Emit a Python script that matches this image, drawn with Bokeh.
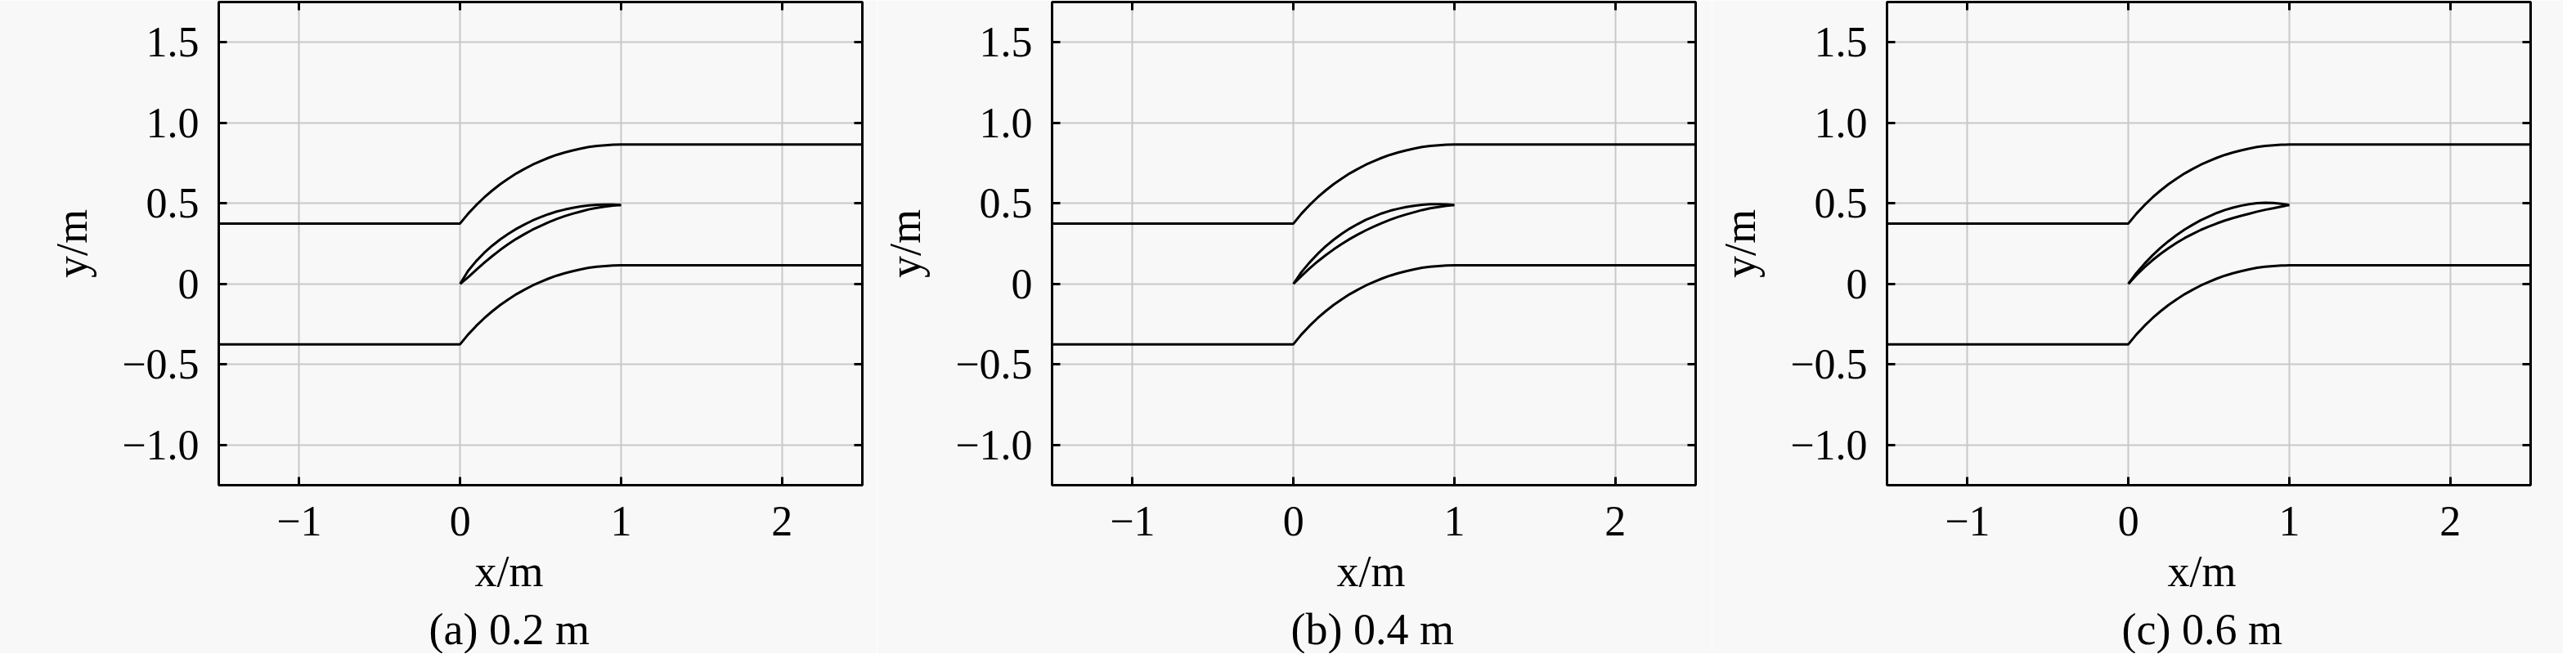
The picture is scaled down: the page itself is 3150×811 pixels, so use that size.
from bokeh.plotting import figure
from bokeh.models import Range1d, FixedTicker, LinearAxis, Title
from bokeh.layouts import row
from bokeh.embed import file_html
from bokeh.resources import INLINE

# ---------------- data ----------------
x_tick_values = [-1, 0, 1, 2]
x_tick_labels = ["\u22121", "0", "1", "2"]
y_tick_values = [-1.0, -0.5, 0.0, 0.5, 1.0, 1.5]
y_tick_labels = ["\u22121.0", "\u22120.5", "0", "0.5", "1.0", "1.5"]
captions = ["(a) 0.2 m", "(b) 0.4 m", "(c) 0.6 m"]
x_label = "x/m"
y_label = "y/m"

# channel walls
wall_x = [-1.5, 0.0, 0.05, 0.10, 0.15, 0.20, 0.25, 0.30, 0.35, 0.40, 0.45, 0.50,
          0.55, 0.60, 0.65, 0.70, 0.75, 0.80, 0.85, 0.90, 0.95, 1.0, 2.5]
upper_wall_y = [0.375, 0.375, 0.436, 0.489, 0.537, 0.580, 0.619, 0.654, 0.686, 0.714,
                0.740, 0.762, 0.783, 0.801, 0.816, 0.829, 0.840, 0.850, 0.857, 0.861,
                0.864, 0.865, 0.865]
lower_wall_y = [-0.375, -0.375, -0.314, -0.261, -0.213, -0.170, -0.131, -0.096, -0.064,
                -0.036, -0.010, 0.012, 0.033, 0.051, 0.066, 0.079, 0.090, 0.100, 0.107,
                0.111, 0.114, 0.115, 0.115]

# blade: camber line and thickness distributions for each case
blade_x = [0.0, 0.05, 0.10, 0.15, 0.20, 0.25, 0.30, 0.35, 0.40, 0.45, 0.50,
           0.55, 0.60, 0.65, 0.70, 0.75, 0.80, 0.85, 0.90, 0.95, 1.0]
camber_y = [0.000, 0.061, 0.114, 0.162, 0.205, 0.244, 0.279, 0.311, 0.339, 0.365, 0.387,
            0.408, 0.426, 0.441, 0.454, 0.465, 0.475, 0.482, 0.486, 0.489, 0.490]
thickness_a = [0.000, 0.040, 0.055, 0.062, 0.065, 0.065, 0.064, 0.062, 0.060, 0.057, 0.054,
               0.050, 0.046, 0.041, 0.036, 0.031, 0.025, 0.019, 0.013, 0.007, 0.000]
thickness_b = [0.000, 0.024, 0.037, 0.047, 0.055, 0.060, 0.063, 0.065, 0.065, 0.065, 0.063,
               0.060, 0.056, 0.051, 0.046, 0.040, 0.033, 0.025, 0.017, 0.009, 0.000]
thickness_c = [0.000, 0.013, 0.022, 0.030, 0.037, 0.043, 0.048, 0.053, 0.057, 0.060, 0.063,
               0.065, 0.065, 0.065, 0.063, 0.059, 0.053, 0.044, 0.033, 0.018, 0.000]
thicknesses = [thickness_a, thickness_b, thickness_c]

# ---------------- styling ----------------
BG = "#f8f8f8"
FONT = "Liberation Serif"
TICK_FS = "52px"
LABEL_FS = "54px"
GRID = "#c8c8c8"

fig_specs = [  # (left border, right border, centre of x-label/caption from frame left, px)
    (275, 18, 355),
    (214, 20, 390),
    (214, 40, 385),
]
XLABEL_HALF_W = 42
CAPTION_HALF_W = 98


def make_panel(i):
    left, right, centre = fig_specs[i]
    p = figure(frame_width=787, frame_height=591,
               x_range=Range1d(-1.5, 2.5), y_range=Range1d(-1.25, 1.75),
               output_backend="svg", toolbar_location=None,
               min_border_left=left, min_border_right=right,
               min_border_top=2, min_border_bottom=10,
               background_fill_color=BG, border_fill_color=BG,
               outline_line_color="black", outline_line_width=3)
    for ax in (p.xaxis[0], p.yaxis[0]):
        ax.axis_line_color = None
        ax.major_tick_in = 10
        ax.major_tick_out = 0
        ax.major_tick_line_width = 3
        ax.major_tick_line_color = "black"
        ax.minor_tick_line_color = None
        ax.major_label_text_font = FONT
        ax.major_label_text_font_size = TICK_FS
        ax.major_label_text_color = "black"
    p.xaxis.ticker = FixedTicker(ticks=x_tick_values)
    p.xaxis.major_label_overrides = dict(zip(x_tick_values, x_tick_labels))
    p.xaxis.major_label_standoff = 26
    p.yaxis.ticker = FixedTicker(ticks=y_tick_values)
    p.yaxis.major_label_overrides = dict(zip(y_tick_values, y_tick_labels))
    p.yaxis.major_label_standoff = 24
    p.yaxis.axis_label = y_label
    p.yaxis.axis_label_text_font = FONT
    p.yaxis.axis_label_text_font_size = LABEL_FS
    p.yaxis.axis_label_text_font_style = "normal"
    p.yaxis.axis_label_text_color = "black"
    p.yaxis.axis_label_standoff = 28

    for side, ticks in (("right", y_tick_values), ("above", x_tick_values)):
        ax = LinearAxis(ticker=FixedTicker(ticks=ticks),
                        major_label_overrides={t: "" for t in ticks},
                        major_label_text_font_size="1px",
                        major_label_standoff=0,
                        axis_line_color=None, minor_tick_line_color=None,
                        major_tick_in=10, major_tick_out=0,
                        major_tick_line_width=3, major_tick_line_color="black")
        p.add_layout(ax, side)

    p.grid.grid_line_color = GRID
    p.grid.grid_line_width = 2
    p.xgrid.ticker = FixedTicker(ticks=x_tick_values)
    p.ygrid.ticker = FixedTicker(ticks=y_tick_values)

    p.line(wall_x, upper_wall_y, line_color="black", line_width=3)
    p.line(wall_x, lower_wall_y, line_color="black", line_width=3)
    t = thicknesses[i]
    suction = [c + 0.5 * th for c, th in zip(camber_y, t)]
    pressure = [c - 0.5 * th for c, th in zip(camber_y, t)]
    p.line(blade_x, suction, line_color="black", line_width=3)
    p.line(blade_x, pressure, line_color="black", line_width=3)

    # x-axis label and caption as titles below the axis
    p.add_layout(Title(text=x_label, align="left", offset=centre - XLABEL_HALF_W,
                       text_font=FONT, text_font_size=LABEL_FS, text_font_style="normal",
                       text_color="black", standoff=18), "below")
    p.add_layout(Title(text=captions[i], align="left", offset=centre - CAPTION_HALF_W,
                       text_font=FONT, text_font_size=LABEL_FS, text_font_style="normal",
                       text_color="black", standoff=0), "below")
    return p


panels = [make_panel(i) for i in range(3)]
layout = row(*panels, spacing=0,
             styles={"margin-left": "-8px", "margin-top": "0px", "margin-bottom": "-16px"})

open("out.html", "w").write(file_html(layout, INLINE))
